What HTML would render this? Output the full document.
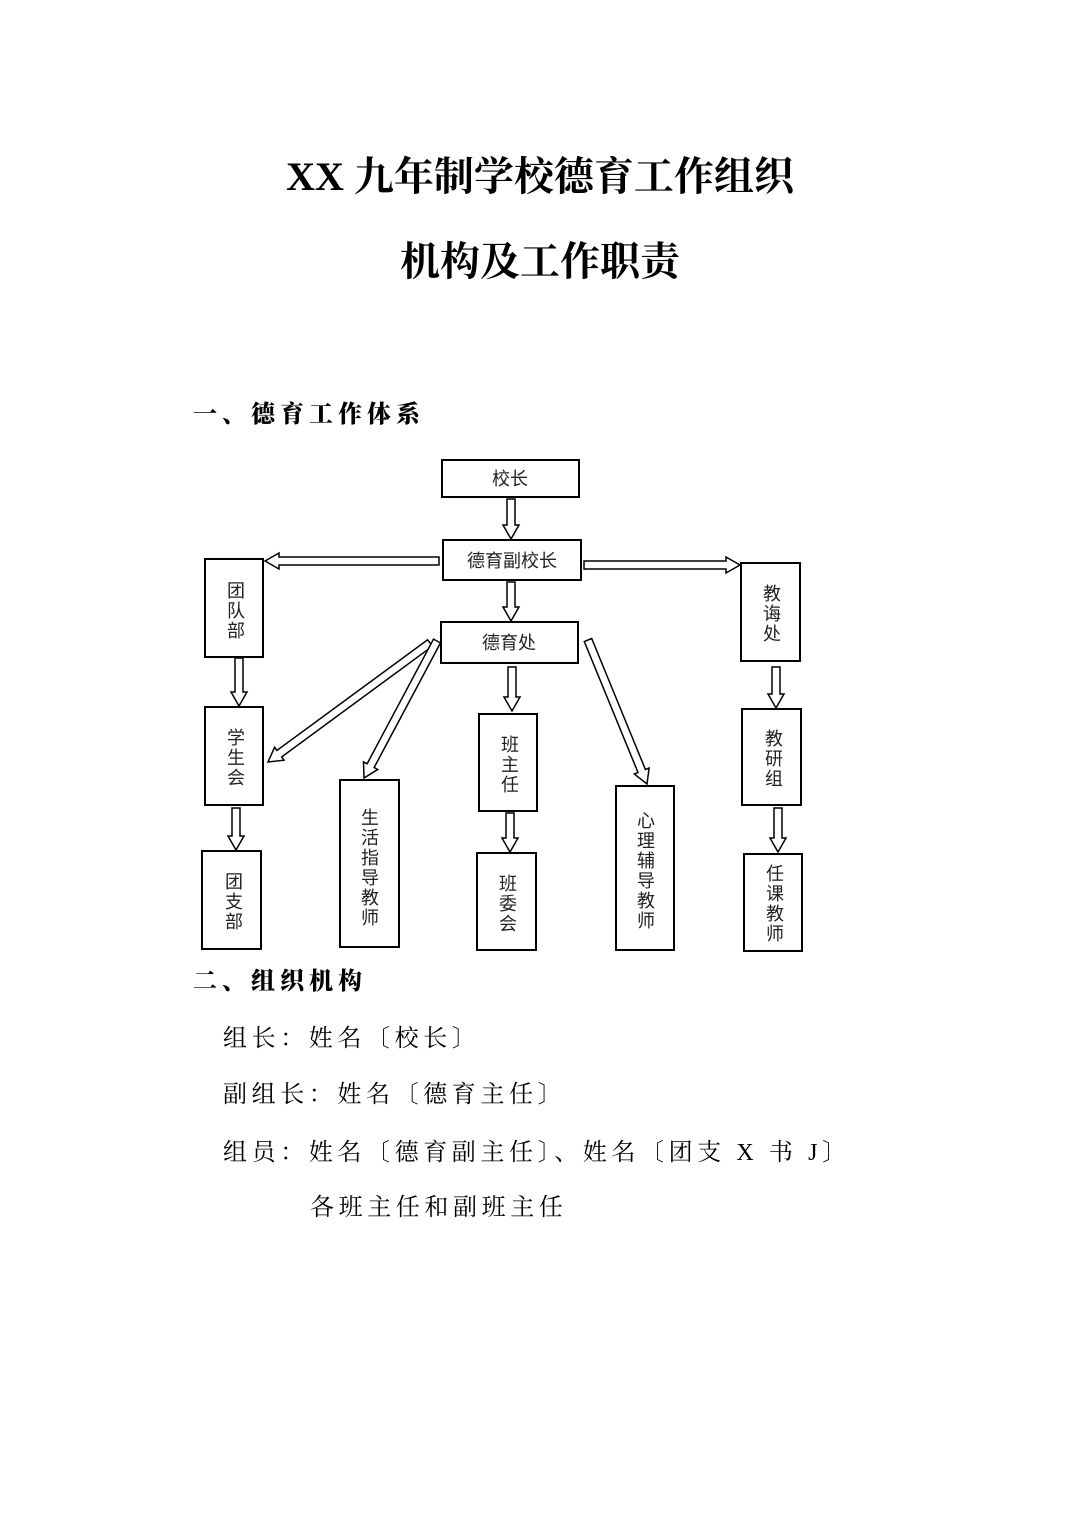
<!DOCTYPE html>
<html><head><meta charset="utf-8"><style>
html,body{margin:0;padding:0;background:#fff}
svg{display:block}
.t{font-family:"Liberation Serif","Noto Serif CJK SC",serif;font-weight:bold;font-size:40px}
.h{font-family:"Liberation Serif","Noto Serif CJK SC",serif;font-weight:900;font-size:24px;letter-spacing:5px}
.p{font-family:"Liberation Serif","Noto Serif CJK SC",serif;font-size:24px;letter-spacing:4.6px}
.b{font-family:"Liberation Sans","Noto Sans CJK SC",sans-serif;font-size:18px;fill:#222}
rect{fill:#fff;stroke:#000;stroke-width:2}
polygon{fill:#fff;stroke:#000;stroke-width:1.5}
</style></head><body>
<svg width="1080" height="1527" viewBox="0 0 1080 1527" xmlns="http://www.w3.org/2000/svg">
<text class="t" x="540" y="190" text-anchor="middle">XX 九年制学校德育工作组织</text>
<text class="t" x="540" y="275" text-anchor="middle">机构及工作职责</text>
<text class="h" x="193" y="422">一、德育工作体系</text>
<text class="h" x="193" y="989">二、组织机构</text>
<text class="p" x="223" y="1046">组长：姓名〔校长〕</text>
<text class="p" x="223" y="1102">副组长：姓名〔德育主任〕</text>
<text class="p" x="223" y="1160">组员：姓名〔德育副主任〕、姓名〔团支 X 书 J〕</text>
<text class="p" x="310" y="1215">各班主任和副班主任</text>
<g>
<polygon points="515,499 515,525 519,525 511,539 503,525 507,525 507,499"/>
<polygon points="515,582 515,607 519,607 511,621 503,607 507,607 507,582"/>
<polygon points="243,658 243,692 247,692 239,706 231,692 235,692 235,658"/>
<polygon points="240,808 240,836 244,836 236,850 228,836 232,836 232,808"/>
<polygon points="516,667 516,697 520,697 512,711 504,697 508,697 508,667"/>
<polygon points="514,813 514,838 518,838 510,852 502,838 506,838 506,813"/>
<polygon points="780,667 780,694 784,694 776,708 768,694 772,694 772,667"/>
<polygon points="782,808 782,838 786,838 778,852 770,838 774,838 774,808"/>
<polygon points="439,557 279,557 279,553 265,561 279,569 279,565 439,565"/>
<polygon points="584,561 726,561 726,557 740,565 726,573 726,569 584,569"/>
<polygon points="432.4,646.2 281.7,756.9 284,760.2 268,762 274.6,747.3 276.9,750.5 427.6,639.8"/>
<polygon points="440.5,642.9 374.1,767.6 377.7,769.5 364,778 363.5,761.9 367.1,763.8 433.5,639.1"/>
<polygon points="591.7,638.5 645.4,769.5 649.1,768 647,784 634.3,774 638,772.5 584.3,641.5"/>
</g>
<g>
<rect x="442" y="460" width="137" height="37"/>
<rect x="443" y="540" width="138" height="40"/>
<rect x="441" y="622" width="137" height="41"/>
<rect x="205" y="559" width="58" height="98"/>
<rect x="741" y="563" width="59" height="98"/>
<rect x="205" y="707" width="58" height="98"/>
<rect x="202" y="851" width="59" height="98"/>
<rect x="340" y="780" width="59" height="167"/>
<rect x="479" y="714" width="58" height="97"/>
<rect x="477" y="853" width="59" height="97"/>
<rect x="616" y="786" width="58" height="164"/>
<rect x="742" y="709" width="59" height="96"/>
<rect x="744" y="854" width="58" height="97"/>
</g>
<text class="b" x="510" y="485" text-anchor="middle">校长</text>
<text class="b" x="512" y="567" text-anchor="middle">德育副校长</text>
<text class="b" x="509" y="649" text-anchor="middle">德育处</text>
<g class="b" text-anchor="middle">
<text x="236" y="597">团</text><text x="236" y="617">队</text><text x="236" y="637">部</text>
<text x="772" y="600">教</text><text x="772" y="620">诲</text><text x="772" y="640">处</text>
<text x="236" y="744">学</text><text x="236" y="764">生</text><text x="236" y="784">会</text>
<text x="234" y="888">团</text><text x="234" y="908">支</text><text x="234" y="928">部</text>
<text x="370" y="824">生</text><text x="370" y="844">活</text><text x="370" y="864">指</text><text x="370" y="884">导</text><text x="370" y="904">教</text><text x="370" y="924">师</text>
<text x="510" y="751">班</text><text x="510" y="771">主</text><text x="510" y="791">任</text>
<text x="508" y="890">班</text><text x="508" y="910">委</text><text x="508" y="930">会</text>
<text x="646" y="827">心</text><text x="646" y="847">理</text><text x="646" y="867">辅</text><text x="646" y="887">导</text><text x="646" y="907">教</text><text x="646" y="927">师</text>
<text x="774" y="745">教</text><text x="774" y="765">研</text><text x="774" y="785">组</text>
<text x="775" y="880">任</text><text x="775" y="900">课</text><text x="775" y="920">教</text><text x="775" y="940">师</text>
</g>
</svg>
</body></html>
